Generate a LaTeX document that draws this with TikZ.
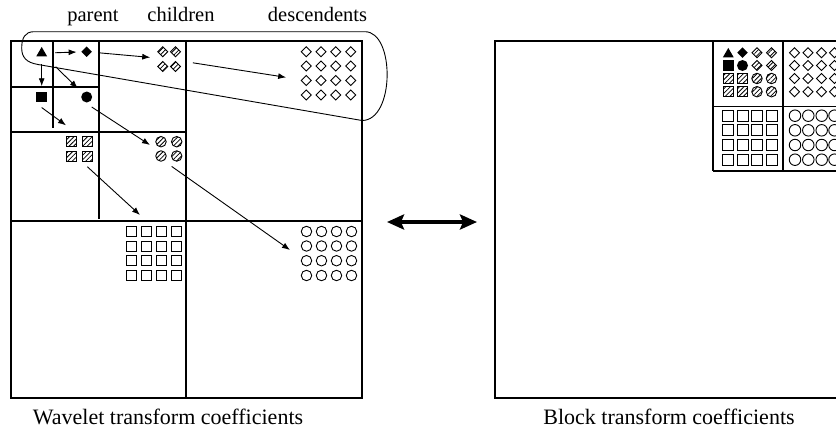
\documentclass[tikz,border=0pt]{standalone}
\usepackage{fontspec}
\setmainfont{Liberation Serif}
\usetikzlibrary{arrows.meta,shapes.geometric,patterns.meta,fit}
\tikzset{
  box/.style={draw, line width=1.7pt, inner sep=0pt, outer sep=0pt},
  divline/.style={line width=1.7pt},
  loopline/.style={line width=0.9pt},
  arr/.style={line width=0.9pt, -{Latex[length=8pt,width=6pt]}},
  dblarr/.style={line width=3.5pt, {Stealth[length=17pt,width=15pt,inset=3pt]}-{Stealth[length=17pt,width=15pt,inset=3pt]}},
  sym/.style={inner sep=0pt, outer sep=0pt, line width=0.9pt},
  hatch/.style={pattern={Lines[angle=45,distance=3.2pt,line width=0.8pt]}},
  ftri/.style={sym, regular polygon, regular polygon sides=3, minimum size=12.5pt, fill=black},
  fdia/.style={sym, diamond, minimum width=10.5pt, minimum height=10.5pt, fill=black},
  hdia/.style={sym, diamond, minimum width=10pt, minimum height=10pt, draw, hatch},
  odia/.style={sym, diamond, minimum width=10pt, minimum height=10pt, draw},
  fsq/.style={sym, rectangle, minimum size=10.5pt, fill=black},
  fcirc/.style={sym, circle, minimum size=11pt, fill=black},
  hsq/.style={sym, rectangle, minimum size=10pt, draw, hatch},
  hcirc/.style={sym, circle, minimum size=10.5pt, draw, hatch},
  osq/.style={sym, rectangle, minimum size=10pt, draw},
  ocirc/.style={sym, circle, minimum size=10.5pt, draw},
  bigosq/.style={osq, minimum size=11pt},
  bigocirc/.style={ocirc, minimum size=11.5pt},
  grp/.style={inner sep=0pt, outer sep=0pt},
  toplab/.style={anchor=base, inner sep=0pt, font=\fontsize{20.5pt}{24pt}\selectfont},
  botlab/.style={anchor=base, inner sep=0pt, font=\fontsize{22pt}{26pt}\selectfont},
}
\begin{document}
\begin{tikzpicture}[x=1pt,y=-1pt]
\useasboundingbox (0,0) rectangle (836,437);

% ---------- labels ----------
\node[toplab] (lparent) at (93,21.5) {parent};
\node[toplab] (lchildren) at (181,21.5) {children};
\node[toplab] (ldesc) at (317.5,21.5) {descendents};
\node[botlab] (lwave) at (168,424) {Wavelet transform coefficients};
\node[botlab] (lblock) at (669,424) {Block transform coefficients};

% ---------- left box ----------
\node[box, minimum width=351pt, minimum height=357pt] (lbox) at (186.5,219.5) {};
\draw[divline] (186,41) -- (186,398);
\draw[divline] (11,221) -- (362,221);
\draw[divline] (99,41) -- (99,219);
\draw[divline] (11,132) -- (186,132);
\draw[divline] (53,41) -- (53,127.5);
\draw[divline] (11,87) -- (99,87);

% parent / level-3 symbols
\node[ftri] (tri) at (41.7,53.2) {};
\node[fdia] (dia) at (86.7,51.7) {};
\node[fsq] (sq) at (41.7,97) {};
\node[fcirc] (circ) at (86.7,97) {};

% children (hatched diamonds)
\foreach \i/\x in {1/162.7,2/175.5}
  \foreach \j/\y in {1/51.7,2/66.5}
    \node[hdia] (c\j\i) at (\x,\y) {};
\node[grp, fit=(c11)(c22)] (chg) {};

% descendents (open diamonds)
\foreach \i/\x in {1/306.3,2/321,3/335.7,4/350.8}
  \foreach \j/\y in {1/51.7,2/66,3/80.5,4/95}
    \node[odia] (d\j\i) at (\x,\y) {};

% hatched squares
\foreach \i/\x in {1/71.7,2/87.3}
  \foreach \j/\y in {1/141.7,2/156}
    \node[hsq] (hs\j\i) at (\x,\y) {};
% hatched circles
\foreach \i/\x in {1/161,2/176.7}
  \foreach \j/\y in {1/141.7,2/156}
    \node[hcirc] (hc\j\i) at (\x,\y) {};
\node[grp, fit=(hc11)(hc22)] (hcg) {};

% open squares and open circles
\foreach \i/\x in {1/131.5,2/146.5,3/161.5,4/176.5}
  \foreach \j/\y in {1/231.5,2/246,3/260.7,4/275.5}
    \node[osq] (s\j\i) at (\x,\y) {};
\foreach \i/\x in {1/306.5,2/321.5,3/336.5,4/351.5}
  \foreach \j/\y in {1/231.5,2/246,3/260.7,4/275.5}
    \node[ocirc] (o\j\i) at (\x,\y) {};

% free arrow ends
\coordinate (e6) at (66,125.3);
\coordinate (e7) at (150,145);
\coordinate (e8) at (140,215);
\coordinate (e9) at (290,250);

% arrows
\draw[arr, shorten <=10pt, shorten >=5pt] (tri) -- (dia);
\draw[arr, shorten <=8pt, shorten >=5.5pt] (tri) -- (sq);
\draw[arr, shorten <=15pt, shorten >=7pt] (tri) -- (circ);
\draw[arr, shorten <=8.5pt, shorten >=7.5pt] (dia) -- (chg);
\draw[arr, shorten <=12.5pt, shorten >=16pt] (chg) -- (d31);
\draw[arr] ([shift={(0,5.3)}]sq.south) -- (e6);
\draw[arr] ([shift={(5,4.5)}]circ.south) -- (e7);
\draw[arr] ([shift={(0,5.7)}]hs22.south) -- (e8);
\draw[arr] ([shift={(-5,5.2)}]hc22.south) -- (e9);

% loop around parent, children, descendents
\draw[loopline] (362,120.5) -- (38,64.5)
  .. controls (26,62.5) and (21.7,57) .. (21.7,48)
  .. controls (21.7,38) and (25,31.7) .. (34,31.7)
  -- (365,31.7)
  .. controls (395,31.7) and (395,120.5) .. (362,120.5);

% ---------- right box ----------
\begin{scope}
\clip (0,0) rectangle (836,437);
\node[box, minimum width=351pt, minimum height=357pt] (rbox) at (670.5,219.5) {};
\draw[divline] (713.3,41) -- (713.3,171);
\draw[divline] (782.7,41) -- (782.7,171);
\draw[divline] (713.3,106.5) -- (846,106.5);
\draw[divline] (713.3,171) -- (846,171);

\node[ftri] (rtri) at (728.3,54.2) {};
\node[fdia] (rdia) at (742.5,52.7) {};
\node[hdia] (rc11) at (757,52.7) {};
\node[hdia] (rc12) at (771.5,52.7) {};
\node[fsq] (rsq) at (728.3,65.5) {};
\node[fcirc] (rcirc) at (742.5,65.5) {};
\node[hdia] (rc21) at (757,65.5) {};
\node[hdia] (rc22) at (771.5,65.5) {};
\foreach \j/\y in {1/78.5,2/91.7} {
  \node[hsq] (rhs\j1) at (728.3,\y) {};
  \node[hsq] (rhs\j2) at (742.5,\y) {};
  \node[hcirc] (rhc\j1) at (757,\y) {};
  \node[hcirc] (rhc\j2) at (771.5,\y) {};
}
\foreach \i/\x in {1/794.5,2/808,3/821.5,4/834.5}
  \foreach \j/\y in {1/52.7,2/65.5,3/78.5,4/91.7}
    \node[odia] (rd\j\i) at (\x,\y) {};
\foreach \i/\x in {1/728.3,2/742.7,3/757.3,4/771.7}
  \foreach \j/\y in {1/115.7,2/130.3,3/145,4/159.7}
    \node[bigosq] (rs\j\i) at (\x,\y) {};
\foreach \i/\x in {1/795,2/808.3,3/821.7,4/834.5}
  \foreach \j/\y in {1/115.7,2/130.3,3/145,4/159.7}
    \node[bigocirc] (ro\j\i) at (\x,\y) {};
\end{scope}

% double arrow between the two boxes
\draw[dblarr] ([shift={(25,2.5)}]lbox.east) -- ([shift={(-18,2.5)}]rbox.west);
\end{tikzpicture}
\end{document}
